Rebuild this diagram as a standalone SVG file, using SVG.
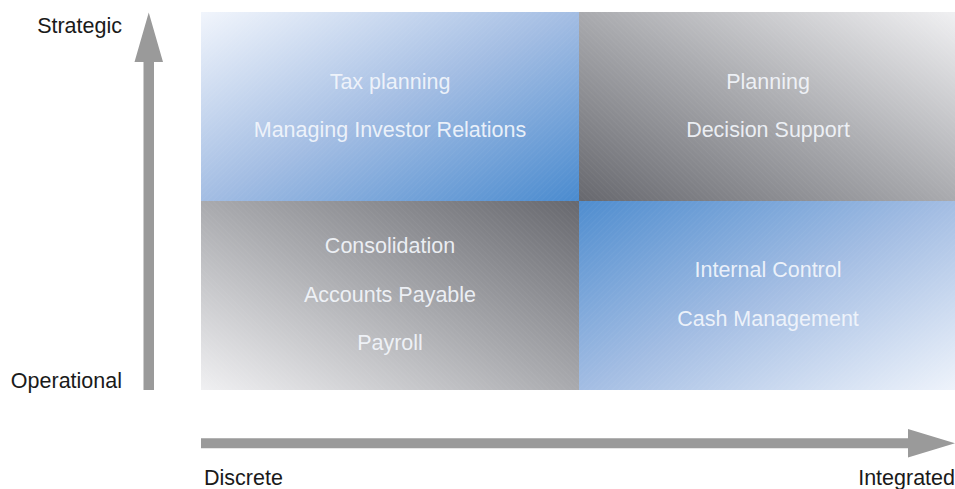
<svg xmlns="http://www.w3.org/2000/svg" width="955" height="489" viewBox="0 0 955 489">
  <style>
    .lbl { font-family: "Liberation Sans", Arial, sans-serif; font-size: 21.5px; fill: #f4f7fc; fill-opacity: 0.92; text-anchor: middle; }
    .axis { font-family: "Liberation Sans", Arial, sans-serif; font-size: 21.5px; fill: #1a1a1a; }
    .arrow { fill: #9a9a9a; }
  </style>
  <defs>
    <linearGradient id="gTL" x1="0" y1="0" x2="1" y2="1">
      <stop offset="0" stop-color="#f1f5fc"/>
      <stop offset="0.5" stop-color="#a3bde3"/>
      <stop offset="1" stop-color="#4a8bcf"/>
    </linearGradient>
    <linearGradient id="gTR" x1="0" y1="1" x2="1" y2="0">
      <stop offset="0" stop-color="#67686e"/>
      <stop offset="0.5" stop-color="#a9aaae"/>
      <stop offset="1" stop-color="#f0f0f2"/>
    </linearGradient>
    <linearGradient id="gBL" x1="1" y1="0" x2="0" y2="1">
      <stop offset="0" stop-color="#67686e"/>
      <stop offset="0.5" stop-color="#a9aaae"/>
      <stop offset="1" stop-color="#f0f0f2"/>
    </linearGradient>
    <linearGradient id="gBR" x1="0" y1="0" x2="1" y2="1">
      <stop offset="0" stop-color="#4f8dcf"/>
      <stop offset="0.5" stop-color="#a3bde3"/>
      <stop offset="1" stop-color="#eef3fb"/>
    </linearGradient>
    <pattern id="stripeA" width="4" height="4" patternUnits="userSpaceOnUse" patternTransform="rotate(45)">
      <line x1="0" y1="0" x2="0" y2="4" stroke="#ffffff" stroke-width="1" stroke-opacity="0.07"/>
    </pattern>
    <pattern id="stripeB" width="4" height="4" patternUnits="userSpaceOnUse" patternTransform="rotate(-45)">
      <line x1="0" y1="0" x2="0" y2="4" stroke="#ffffff" stroke-width="1" stroke-opacity="0.07"/>
    </pattern>
  </defs>

  <g id="quadrant-strategic-discrete">
    <rect x="201" y="12" width="378" height="189" fill="url(#gTL)"/>
    <rect x="201" y="12" width="378" height="189" fill="url(#stripeA)"/>
    <text class="lbl" x="390" y="89">Tax planning</text>
    <text class="lbl" x="390" y="137">Managing Investor Relations</text>
  </g>

  <g id="quadrant-strategic-integrated">
    <rect x="579" y="12" width="376" height="189" fill="url(#gTR)"/>
    <rect x="579" y="12" width="376" height="189" fill="url(#stripeB)"/>
    <text class="lbl" x="768" y="89">Planning</text>
    <text class="lbl" x="768" y="137">Decision Support</text>
  </g>

  <g id="quadrant-operational-discrete">
    <rect x="201" y="201" width="378" height="189" fill="url(#gBL)"/>
    <rect x="201" y="201" width="378" height="189" fill="url(#stripeB)"/>
    <text class="lbl" x="390" y="253">Consolidation</text>
    <text class="lbl" x="390" y="302">Accounts Payable</text>
    <text class="lbl" x="390" y="350">Payroll</text>
  </g>

  <g id="quadrant-operational-integrated">
    <rect x="579" y="201" width="376" height="189" fill="url(#gBR)"/>
    <rect x="579" y="201" width="376" height="189" fill="url(#stripeA)"/>
    <text class="lbl" x="768" y="277">Internal Control</text>
    <text class="lbl" x="768" y="326">Cash Management</text>
  </g>

  <g id="connectors">
    <polygon class="arrow" points="143.5,390 154,390 154,62 163,62 148.75,12.5 134.5,62 143.5,62"/>
    <polygon class="arrow" points="201,438.3 908,438.3 908,429 955,443.3 908,457.5 908,448.3 201,448.3"/>
  </g>

  <g id="axis-labels">
    <text class="axis" x="122" y="33" text-anchor="end">Strategic</text>
    <text class="axis" x="122" y="388" text-anchor="end">Operational</text>
    <text class="axis" x="204" y="485">Discrete</text>
    <text class="axis" x="955" y="485" text-anchor="end">Integrated</text>
  </g>
</svg>
